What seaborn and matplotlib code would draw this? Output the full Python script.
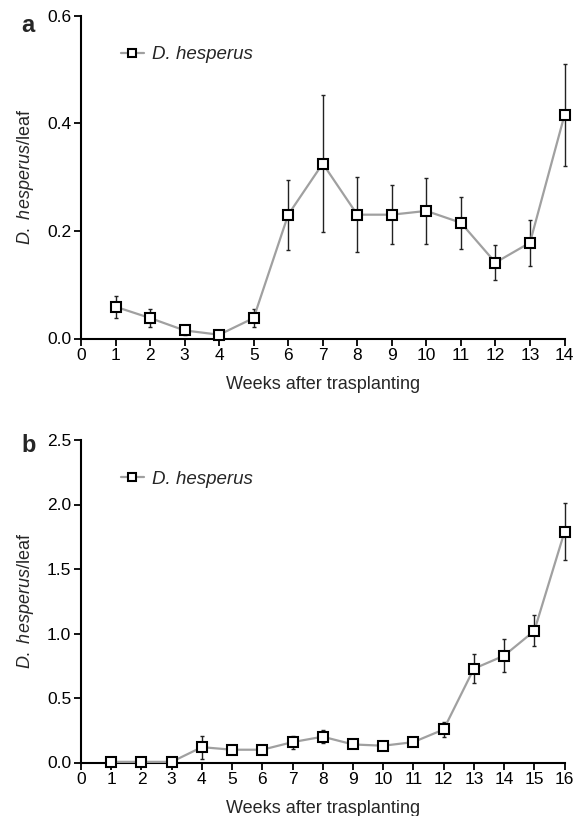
import matplotlib
matplotlib.use("Agg")
import matplotlib.pyplot as plt
import seaborn as sns
import pandas as pd
import numpy as np

sns.set_theme(style="ticks")
plt.rcParams['font.family'] = ['Liberation Sans', 'DejaVu Sans']
plt.rcParams['mathtext.fontset'] = 'custom'
plt.rcParams['mathtext.rm'] = 'Liberation Sans'
plt.rcParams['mathtext.it'] = 'Liberation Sans:italic'

# Panel a data
weeks_a = [1, 2, 3, 4, 5, 6, 7, 8, 9, 10, 11, 12, 13, 14]
mean_a = [0.059, 0.038, 0.015, 0.007, 0.038, 0.230, 0.325, 0.230, 0.230, 0.237, 0.215, 0.141, 0.178, 0.415]
err_a = [0.020, 0.017, 0.008, 0.003, 0.017, 0.065, 0.127, 0.070, 0.055, 0.061, 0.048, 0.033, 0.043, 0.095]

# Panel b data
weeks_b = [1, 2, 3, 4, 5, 6, 7, 8, 9, 10, 11, 12, 13, 14, 15, 16]
mean_b = [0.005, 0.005, 0.005, 0.119, 0.099, 0.099, 0.158, 0.200, 0.140, 0.130, 0.158, 0.256, 0.727, 0.828, 1.020, 1.788]
err_b = [0.010, 0.010, 0.010, 0.090, 0.012, 0.020, 0.050, 0.050, 0.028, 0.028, 0.030, 0.060, 0.111, 0.130, 0.120, 0.220]

series_label = "D. hesperus"
ylab = r"$\it{D.}$ $\it{hesperus}$/leaf"
xlab = "Weeks after trasplanting"

W, H = 583, 816
fig = plt.figure(figsize=(W / 100, H / 100), dpi=100)

def make_ax(top_px, bottom_px, left_px=81, right_px=564.5):
    return fig.add_axes([left_px / W, 1 - bottom_px / H,
                         (right_px - left_px) / W, (bottom_px - top_px) / H])

ax_a = make_ax(15.5, 338.5)
ax_b = make_ax(440, 762.5)

def draw(ax, weeks, mean, err, xmax, ymax, yticks, ytfmt):
    df = pd.DataFrame({"week": weeks, "mean": mean})
    ax.errorbar(weeks, mean, yerr=err, fmt='none', ecolor='#222222',
                elinewidth=1.0, capsize=1.6, capthick=1.0, zorder=2, clip_on=False)
    sns.lineplot(data=df, x="week", y="mean", ax=ax, color='#a0a0a0', linewidth=1.6,
                 marker='s', markersize=6.5, markerfacecolor='white',
                 markeredgecolor='black', markeredgewidth=1.5,
                 label=series_label, zorder=3, clip_on=False)
    ax.set_xlim(0, xmax)
    ax.set_ylim(0, ymax)
    ax.set_xticks(range(0, xmax + 1))
    ax.set_yticks(yticks)
    ax.set_yticklabels([ytfmt.format(v) for v in yticks])
    for s in ['top', 'right']:
        ax.spines[s].set_visible(False)
    for s in ['left', 'bottom']:
        ax.spines[s].set_linewidth(1.5)
        ax.spines[s].set_color('black')
    ax.tick_params(axis='both', direction='out', length=5, width=1.3,
                   labelsize=12.5, colors='black', pad=2)
    ax.set_xlabel(xlab, fontsize=13, labelpad=9)
    ax.set_ylabel(ylab, fontsize=13, labelpad=8)
    ax.legend(loc='upper left', bbox_to_anchor=(0.047, 0.957), frameon=False,
              prop={'size': 13.5, 'style': 'italic'},
              handlelength=1.25, handletextpad=0.4, markerscale=0.8)

draw(ax_a, weeks_a, mean_a, err_a, 14, 0.6, [0.0, 0.2, 0.4, 0.6], "{:.1f}")
draw(ax_b, weeks_b, mean_b, err_b, 16, 2.5, [0.0, 0.5, 1.0, 1.5, 2.0, 2.5], "{:.1f}")

fig.text(21 / W, 1 - 25 / H, "a", fontsize=17, fontweight='bold', va='center', ha='left')
fig.text(21 / W, 1 - 446 / H, "b", fontsize=17, fontweight='bold', va='center', ha='left')

fig.savefig("out.png", dpi=100)
